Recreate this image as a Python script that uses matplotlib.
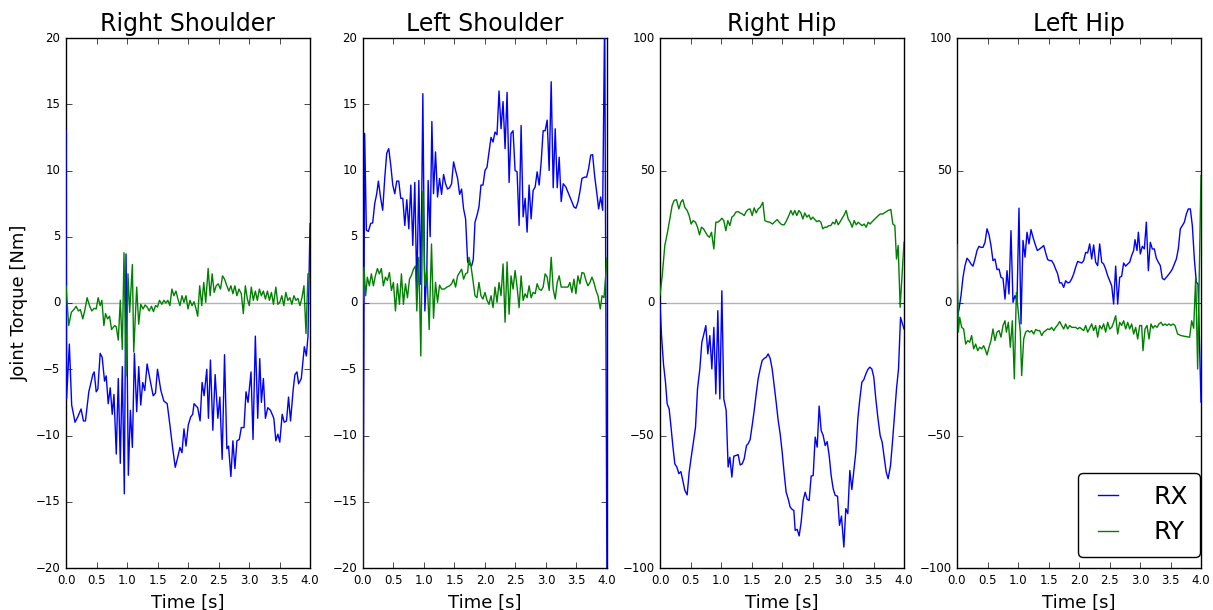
import numpy as np
import matplotlib
matplotlib.use("Agg")
import matplotlib.pyplot as plt

# joint torques, time in s, torque in Nm
rs_rx_t = [0.0, 0.01, 0.055, 0.093, 0.148, 0.192, 0.247, 0.286, 0.319, 0.374, 0.44, 0.462, 0.495, 0.522,
           0.56, 0.593, 0.632, 0.659, 0.692, 0.725, 0.758, 0.786, 0.824, 0.857, 0.89, 0.923, 0.956, 0.984,
           1.022, 1.055, 1.088, 1.121, 1.159, 1.192, 1.225, 1.258, 1.291, 1.33, 1.374, 1.429, 1.467, 1.5,
           1.555, 1.604, 1.659, 1.703, 1.747, 1.791, 1.824, 1.868, 1.901, 1.934, 1.967, 2.005, 2.044, 2.077,
           2.099, 2.159, 2.198, 2.231, 2.264, 2.308, 2.335, 2.368, 2.407, 2.445, 2.489, 2.522, 2.56, 2.599,
           2.637, 2.665, 2.703, 2.736, 2.769, 2.802, 2.841, 2.874, 2.918, 2.951, 2.984, 3.033, 3.066, 3.104,
           3.143, 3.176, 3.203, 3.236, 3.269, 3.308, 3.352, 3.407, 3.44, 3.473, 3.505, 3.544, 3.577, 3.615,
           3.648, 3.681, 3.725, 3.753, 3.786, 3.813, 3.857, 3.907, 3.94, 3.967, 4.0]
rs_rx = [13, -7.2, -3.1, -7.7, -9.0, -8.6, -8.0, -8.9, -8.9, -6.7, -5.4, -5.2, -6.7, -6.5,
         -3.8, -4.1, -5.9, -5.5, -7.6, -6.4, -8.4, -6.9, -11.4, -5.7, -12.1, -4.8, -14.4, 3.7,
         -13.0, -8.1, -10.9, -3.8, -8.2, -4.8, -7.7, -6.0, -6.6, -4.6, -5.7, -7.0, -6.8, -5.0,
         -6.6, -7.4, -7.6, -9.2, -10.9, -12.4, -11.8, -10.9, -11.3, -9.5, -10.8, -9.2, -8.6, -8.4,
         -7.6, -7.9, -8.9, -6.0, -7.0, -5.0, -8.7, -4.3, -9.6, -5.4, -8.7, -7.1, -11.8, -3.9,
         -11.0, -10.8, -13.1, -10.4, -12.5, -10.4, -10.3, -9.4, -9.4, -6.7, -7.5, -5.2, -10.3, -2.5,
         -8.7, -4.2, -7.5, -5.7, -8.7, -7.9, -8.1, -8.7, -10.4, -9.9, -10.5, -8.4, -9.0, -8.9,
         -7.1, -8.9, -6.5, -5.4, -5.2, -6.1, -5.7, -3.3, -4.0, -2.5, 6.0]

rs_ry_t = [0.0, 0.044, 0.088, 0.137, 0.165, 0.203, 0.236, 0.275, 0.313, 0.346, 0.385, 0.423, 0.462, 0.495,
           0.527, 0.56, 0.588, 0.621, 0.648, 0.681, 0.714, 0.747, 0.797, 0.824, 0.857, 0.89, 0.923, 0.951,
           0.984, 1.016, 1.044, 1.088, 1.11, 1.159, 1.192, 1.225, 1.264, 1.297, 1.33, 1.363, 1.401, 1.434,
           1.467, 1.5, 1.533, 1.571, 1.604, 1.637, 1.67, 1.703, 1.736, 1.769, 1.802, 1.835, 1.868, 1.901,
           1.934, 1.967, 2.0, 2.033, 2.066, 2.099, 2.132, 2.159, 2.192, 2.225, 2.258, 2.291, 2.33, 2.363,
           2.396, 2.429, 2.462, 2.495, 2.533, 2.566, 2.599, 2.637, 2.67, 2.703, 2.736, 2.769, 2.802, 2.835,
           2.874, 2.907, 2.94, 2.973, 3.005, 3.038, 3.071, 3.104, 3.137, 3.17, 3.203, 3.236, 3.269, 3.302,
           3.335, 3.368, 3.401, 3.44, 3.473, 3.505, 3.538, 3.571, 3.604, 3.637, 3.67, 3.703, 3.736, 3.769,
           3.802, 3.835, 3.868, 3.901, 3.934, 3.967, 4.0]
rs_ry = [1.3, -1.7, -0.7, -0.45, -0.25, -0.6, -0.5, -1.2, -0.45, 0.4, -0.2, -0.6, -0.4, -0.45,
         0.4, -0.2, 0.2, -1.7, -0.8, -1.2, -1.0, -2.0, -1.7, -1.8, -2.8, 0.2, -3.5, 3.8,
         -5.5, 2.2, -0.7, 2.9, -3.7, 1.2, -1.6, -0.1, -0.45, -0.15, -0.3, -0.6, -0.25, -0.65,
         -0.2, -0.3, 0.2, -0.1, 0.2, 0.0, 0.2, -0.2, 1.05, 0.55, 0.9, 0.3, -0.2, 0.55,
         0.05, 0.55, -0.45, 0.2, -0.2, 0.1, -0.45, -1.0, 1.3, -0.2, 1.55, 0.05, 2.6, 0.55,
         2.2, 0.8, 1.3, 1.45, 1.05, 2.05, 1.8, 1.3, 0.9, 1.3, 0.7, 1.3, 0.55, 1.05,
         0.7, -0.8, 1.3, 0.3, -0.2, 1.2, 0.2, 0.9, 0.2, 1.05, 0.55, 0.9, 0.3, 0.9,
         0.2, 0.8, -0.1, 1.2, -0.1, 0.05, 0.55, -0.2, 0.8, 0.2, 0.4, -0.1, 0.55, 0.2,
         0.35, -0.2, 0.4, 1.3, -2.3, 2.2, 2.3]

ls_rx_t = [0.0, 0.027, 0.055, 0.088, 0.126, 0.159, 0.192, 0.225, 0.252, 0.29, 0.323, 0.356, 0.389, 0.422,
           0.455, 0.488, 0.521, 0.553, 0.586, 0.619, 0.652, 0.685, 0.718, 0.751, 0.784, 0.816, 0.849, 0.882,
           0.915, 0.948, 0.981, 1.014, 1.047, 1.068, 1.101, 1.129, 1.156, 1.189, 1.222, 1.255, 1.288, 1.321,
           1.353, 1.386, 1.419, 1.452, 1.485, 1.518, 1.551, 1.584, 1.616, 1.649, 1.682, 1.715, 1.748, 1.781,
           1.808, 1.836, 1.868, 1.901, 1.934, 1.967, 2.0, 2.033, 2.066, 2.099, 2.132, 2.164, 2.197, 2.23,
           2.263, 2.296, 2.329, 2.362, 2.395, 2.427, 2.46, 2.493, 2.526, 2.559, 2.592, 2.625, 2.658, 2.69,
           2.723, 2.756, 2.789, 2.822, 2.855, 2.888, 2.921, 2.953, 2.986, 3.019, 3.052, 3.085, 3.118, 3.151,
           3.184, 3.216, 3.249, 3.282, 3.326, 3.37, 3.414, 3.458, 3.49, 3.523, 3.556, 3.589, 3.633, 3.666,
           3.699, 3.732, 3.764, 3.797, 3.83, 3.863, 3.896, 3.929, 3.962, 4.0]
ls_rx = [-21, 12.8, 5.5, 5.4, 6.0, 6.05, 7.5, 8.25, 9.2, 7.9, 7.0, 9.4, 11.3, 11.65,
         10.4, 8.9, 8.25, 9.2, 9.2, 7.9, 7.9, 5.85, 7.8, 5.6, 8.9, 4.35, 9.1, 1.05,
         9.25, 1.4, 15.8, -0.6, 2.6, 9.25, 5.0, 13.7, 8.25, 11.4, 8.0, 9.4, 8.2, 9.7,
         9.0, 8.6, 8.7, 9.0, 10.65, 10.0, 9.4, 8.2, 8.6, 7.1, 6.35, 3.1, 2.9, 2.8,
         3.3, 6.1, 6.6, 7.25, 8.9, 8.9, 10.0, 10.25, 11.4, 12.5, 12.15, 12.9, 12.7, 16.0,
         13.15, 15.2, 11.65, 15.9, 9.1, 12.8, 13.0, 10.0, 9.9, 5.85, 13.4, 6.5, 7.9, 5.35,
         8.9, 6.35, 8.5, 8.75, 9.9, 8.9, 10.65, 13.0, 13.0, 13.8, 10.0, 16.7, 8.7, 13.15,
         8.7, 11.0, 7.65, 9.0, 8.75, 8.25, 7.75, 7.25, 7.15, 7.6, 8.4, 9.4, 9.5, 9.5,
         10.15, 11.15, 11.2, 9.6, 8.4, 7.1, 8.0, 7.0, 22, -22]

ls_ry_t = [0.0, 0.016, 0.044, 0.071, 0.104, 0.137, 0.17, 0.203, 0.236, 0.268, 0.301, 0.334, 0.367, 0.4,
           0.433, 0.466, 0.499, 0.532, 0.564, 0.597, 0.63, 0.663, 0.696, 0.729, 0.762, 0.795, 0.827, 0.86,
           0.882, 0.915, 0.948, 0.981, 1.014, 1.047, 1.085, 1.123, 1.156, 1.189, 1.222, 1.255, 1.288, 1.332,
           1.375, 1.419, 1.452, 1.485, 1.518, 1.551, 1.584, 1.616, 1.649, 1.682, 1.715, 1.737, 1.77, 1.803,
           1.836, 1.868, 1.901, 1.934, 1.967, 2.0, 2.033, 2.066, 2.099, 2.132, 2.164, 2.197, 2.23, 2.263,
           2.296, 2.329, 2.362, 2.395, 2.427, 2.46, 2.493, 2.526, 2.559, 2.592, 2.625, 2.658, 2.69, 2.723,
           2.756, 2.789, 2.822, 2.855, 2.888, 2.921, 2.953, 2.986, 3.019, 3.052, 3.085, 3.118, 3.151, 3.184,
           3.216, 3.249, 3.304, 3.359, 3.392, 3.425, 3.458, 3.49, 3.523, 3.556, 3.589, 3.622, 3.655, 3.688,
           3.721, 3.753, 3.786, 3.819, 3.852, 3.89, 3.918, 3.951, 4.0]
ls_ry = [0.0, 2.7, 0.55, 1.95, 1.3, 2.2, 1.3, 2.05, 2.6, 2.2, 2.6, 1.3, 1.95, 1.7,
         2.3, 0.95, 1.55, -0.6, 1.45, -0.1, 2.2, -0.1, 1.45, 0.4, 1.8, 2.1, 2.55, 2.8,
         -0.6, 3.45, -4.0, 8.4, 1.3, 2.5, -2.0, 4.45, -1.15, 1.55, 0.05, 1.35, 1.05, 1.05,
         1.2, 1.3, 1.45, 1.8, 1.2, 2.05, 2.3, 2.55, 1.8, 2.2, 2.3, 3.45, 2.8, 1.7,
         0.55, 0.4, 1.55, 0.55, 0.3, 0.8, 0.2, -0.1, 0.55, -0.35, 1.2, 0.05, 1.55, 0.55,
         2.95, -1.45, 3.1, -0.85, 2.05, 1.05, 2.45, 1.2, -0.35, 2.05, 0.2, 0.7, 0.4, 1.3,
         0.4, 0.8, 0.7, 1.45, 1.05, 0.95, 1.2, 2.2, 1.95, 0.95, 3.45, 1.05, 0.3, 1.55,
         2.05, 1.2, 1.2, 1.2, 1.55, 0.8, 1.8, 0.7, 2.05, 1.45, 2.3, 2.25, 1.7, 1.3,
         1.55, 1.95, 1.55, 0.95, 0.55, -0.45, 0.55, 0.4, 3.4]

rh_rx_t = [0.0, 0.025, 0.057, 0.09, 0.117, 0.15, 0.178, 0.21, 0.243, 0.276, 0.309, 0.342, 0.374, 0.407,
           0.445, 0.478, 0.516, 0.555, 0.582, 0.615, 0.653, 0.686, 0.719, 0.751, 0.784, 0.817, 0.85, 0.883,
           0.915, 0.948, 0.981, 1.014, 1.046, 1.085, 1.117, 1.145, 1.178, 1.21, 1.249, 1.281, 1.314, 1.347,
           1.38, 1.418, 1.445, 1.478, 1.511, 1.544, 1.577, 1.609, 1.642, 1.675, 1.708, 1.74, 1.773, 1.806,
           1.839, 1.872, 1.904, 1.937, 1.97, 2.003, 2.036, 2.068, 2.101, 2.134, 2.167, 2.194, 2.216, 2.249,
           2.281, 2.314, 2.347, 2.38, 2.413, 2.445, 2.478, 2.511, 2.544, 2.577, 2.609, 2.642, 2.675, 2.708,
           2.74, 2.773, 2.806, 2.839, 2.872, 2.91, 2.943, 2.975, 3.014, 3.046, 3.079, 3.112, 3.145, 3.178,
           3.21, 3.243, 3.276, 3.309, 3.342, 3.374, 3.407, 3.44, 3.473, 3.505, 3.538, 3.571, 3.609, 3.642,
           3.675, 3.708, 3.74, 3.779, 3.811, 3.844, 3.877, 3.91, 3.943, 4.0]
rh_rx = [0.0, -12.3, -23.0, -29.9, -38.0, -40.0, -46.2, -53.8, -60.7, -61.9, -64.4, -63.6, -67.0, -70.7,
         -72.4, -63.8, -57.5, -51.3, -46.9, -32.4, -24.9, -14.8, -11.7, -8.5, -19.2, -12.3, -24.9, -9.2,
         -34.3, -2.9, -36.2, 4.6, -36.2, -40.6, -61.9, -58.2, -65.7, -57.8, -57.5, -57.2, -61.1, -60.7,
         -58.8, -53.8, -53.1, -51.5, -46.2, -40.6, -34.3, -28.6, -24.9, -21.7, -20.9, -20.5, -19.2, -20.9,
         -24.9, -31.2, -37.4, -44.3, -49.4, -56.3, -64.4, -71.4, -73.9, -77.0, -77.9, -78.3, -85.8, -85.4,
         -87.9, -82.7, -74.5, -71.4, -74.1, -74.5, -65.3, -65.1, -50.6, -54.4, -38.9, -48.1, -50.0, -53.8,
         -52.3, -57.5, -65.1, -70.1, -72.6, -72.9, -83.9, -80.4, -92.1, -77.6, -79.5, -63.2, -70.4, -63.2,
         -56.3, -43.7, -36.2, -29.9, -28.9, -26.8, -25.1, -24.2, -24.9, -28.0, -36.2, -43.1, -50.0, -52.5,
         -58.2, -63.8, -66.3, -61.3, -52.5, -42.5, -32.4, -24.9, -5.4, -9.8]

rh_ry_t = [0.0, 0.036, 0.079, 0.123, 0.161, 0.199, 0.232, 0.27, 0.309, 0.342, 0.374, 0.407, 0.445, 0.478,
           0.511, 0.544, 0.582, 0.615, 0.648, 0.68, 0.713, 0.746, 0.779, 0.811, 0.844, 0.883, 0.915, 0.948,
           0.981, 1.014, 1.046, 1.079, 1.112, 1.145, 1.178, 1.21, 1.243, 1.281, 1.314, 1.347, 1.38, 1.413,
           1.445, 1.478, 1.511, 1.544, 1.577, 1.609, 1.642, 1.686, 1.719, 1.757, 1.801, 1.844, 1.883, 1.921,
           1.954, 1.992, 2.036, 2.074, 2.112, 2.145, 2.178, 2.21, 2.243, 2.276, 2.309, 2.342, 2.374, 2.407,
           2.44, 2.473, 2.505, 2.538, 2.571, 2.604, 2.637, 2.669, 2.702, 2.735, 2.768, 2.8, 2.833, 2.866,
           2.888, 2.921, 2.954, 2.986, 3.019, 3.052, 3.085, 3.117, 3.15, 3.183, 3.216, 3.249, 3.281, 3.314,
           3.347, 3.38, 3.413, 3.445, 3.478, 3.522, 3.566, 3.609, 3.653, 3.697, 3.74, 3.784, 3.817, 3.85,
           3.877, 3.904, 3.937, 4.0]
rh_ry = [3.0, 10.3, 21.7, 26.7, 31.7, 36.8, 38.7, 39.0, 35.5, 38.0, 39.0, 36.1, 34.9, 33.0,
         29.8, 31.1, 30.5, 28.6, 25.7, 28.6, 28.0, 26.7, 25.4, 24.8, 26.7, 20.4, 30.5, 30.5,
         31.1, 32.0, 31.1, 27.3, 31.1, 29.2, 32.4, 33.0, 34.3, 34.5, 34.0, 33.6, 33.0, 34.5,
         35.3, 35.5, 33.0, 35.9, 34.0, 35.5, 36.1, 38.0, 31.1, 30.7, 30.5, 29.8, 30.7, 31.5,
         30.5, 29.6, 29.5, 31.1, 33.0, 34.9, 33.2, 34.9, 33.0, 34.9, 34.0, 31.7, 34.0, 32.4,
         33.2, 31.5, 32.4, 31.5, 30.7, 31.1, 30.5, 28.0, 28.6, 28.6, 29.2, 29.2, 30.5, 29.8,
         31.5, 29.5, 30.7, 32.0, 33.2, 34.9, 31.7, 30.5, 28.6, 31.1, 29.5, 30.5, 29.8, 29.2,
         29.8, 28.6, 30.5, 29.8, 30.7, 31.7, 32.7, 33.6, 33.6, 34.3, 34.9, 35.3, 29.8, 29.2,
         16.6, 21.7, -1.6, 22.9]

lh_rx_t = [0.0, 0.033, 0.066, 0.098, 0.131, 0.164, 0.197, 0.23, 0.262, 0.295, 0.328, 0.361, 0.393, 0.426,
           0.459, 0.492, 0.525, 0.557, 0.59, 0.623, 0.656, 0.689, 0.721, 0.754, 0.787, 0.82, 0.852, 0.885,
           0.918, 0.951, 0.984, 1.016, 1.049, 1.082, 1.115, 1.148, 1.18, 1.213, 1.246, 1.279, 1.317, 1.355,
           1.388, 1.421, 1.454, 1.486, 1.519, 1.552, 1.585, 1.617, 1.65, 1.683, 1.716, 1.749, 1.781, 1.814,
           1.847, 1.88, 1.913, 1.945, 1.978, 2.011, 2.044, 2.077, 2.109, 2.142, 2.175, 2.208, 2.24, 2.273,
           2.306, 2.339, 2.372, 2.404, 2.437, 2.47, 2.503, 2.536, 2.568, 2.601, 2.634, 2.667, 2.699, 2.732,
           2.765, 2.798, 2.831, 2.863, 2.896, 2.918, 2.951, 2.973, 3.005, 3.038, 3.071, 3.104, 3.137, 3.169,
           3.202, 3.235, 3.268, 3.301, 3.333, 3.366, 3.399, 3.432, 3.464, 3.497, 3.53, 3.563, 3.596, 3.628,
           3.661, 3.694, 3.727, 3.76, 3.792, 3.825, 3.858, 3.891, 3.923, 3.951, 4.0]
lh_rx = [-6.0, -2.3, 2.8, 9.7, 14.1, 16.9, 16.0, 14.7, 13.9, 16.6, 19.8, 21.4, 21.0, 21.0,
         22.9, 28.0, 25.7, 21.7, 16.0, 16.6, 12.6, 12.8, 9.7, 9.3, 1.5, 12.2, 3.4, 27.3,
         0.25, 2.8, 0.9, 35.8, -7.9, 23.6, 17.3, 26.7, 22.3, 27.7, 24.8, 22.3, 19.8, 20.4,
         21.0, 21.7, 18.9, 16.4, 16.0, 16.0, 14.7, 12.8, 11.0, 7.6, 7.6, 5.9, 8.4, 7.6,
         7.8, 9.1, 11.0, 13.5, 15.7, 15.4, 15.1, 16.0, 19.1, 18.9, 22.3, 16.6, 21.9, 15.4,
         14.1, 22.3, 15.4, 14.7, 12.8, 10.3, 8.4, 6.5, -0.4, 13.9, -0.4, 9.7, 10.1, 15.1,
         13.9, 14.7, 15.4, 17.9, 19.8, 23.9, 19.8, 26.7, 18.5, 21.4, 20.4, 30.5, 12.2, 22.9,
         20.4, 20.4, 16.9, 15.4, 14.1, 9.3, 8.8, 9.7, 10.6, 11.6, 12.8, 14.7, 16.6, 20.4,
         28.0, 29.2, 30.5, 33.6, 35.5, 35.5, 29.2, 16.6, 7.8, 7.2, -37.4]

lh_ry_t = [0.0, 0.022, 0.044, 0.077, 0.109, 0.142, 0.175, 0.208, 0.24, 0.273, 0.306, 0.339, 0.372, 0.404,
           0.437, 0.47, 0.492, 0.525, 0.557, 0.59, 0.623, 0.656, 0.689, 0.721, 0.754, 0.787, 0.809, 0.842,
           0.874, 0.907, 0.94, 0.973, 1.005, 1.038, 1.06, 1.093, 1.126, 1.158, 1.191, 1.224, 1.257, 1.29,
           1.322, 1.355, 1.388, 1.421, 1.454, 1.486, 1.519, 1.552, 1.585, 1.617, 1.65, 1.683, 1.716, 1.749,
           1.781, 1.814, 1.847, 1.88, 1.913, 1.945, 1.978, 2.011, 2.044, 2.077, 2.109, 2.142, 2.175, 2.208,
           2.24, 2.273, 2.306, 2.339, 2.372, 2.404, 2.437, 2.47, 2.503, 2.536, 2.568, 2.601, 2.634, 2.667,
           2.699, 2.732, 2.765, 2.798, 2.831, 2.863, 2.896, 2.929, 2.962, 2.995, 3.027, 3.049, 3.082, 3.115,
           3.148, 3.18, 3.213, 3.246, 3.279, 3.311, 3.344, 3.377, 3.41, 3.443, 3.475, 3.508, 3.541, 3.574,
           3.617, 3.672, 3.738, 3.814, 3.847, 3.88, 3.913, 3.945, 4.0]
lh_ry = [22, -11.0, -5.4, -9.2, -9.8, -15.5, -14.2, -14.8, -12.3, -17.3, -15.5, -18.0, -16.7, -17.3,
         -16.1, -18.0, -19.6, -16.7, -14.2, -9.8, -14.2, -11.0, -10.4, -12.9, -8.5, -6.7, -11.0, -7.3,
         -16.7, -6.7, -28.6, 4.0, -3.5, -11.0, -27.4, -13.6, -11.0, -10.4, -11.0, -10.4, -11.7, -10.0,
         -10.4, -10.4, -12.3, -11.0, -10.4, -9.8, -10.0, -9.2, -10.4, -9.2, -8.3, -7.0, -8.5, -9.8,
         -7.9, -9.8, -8.5, -9.2, -9.2, -9.2, -9.8, -9.2, -9.8, -10.4, -8.5, -11.0, -9.5, -7.9,
         -10.4, -8.5, -12.9, -8.5, -9.8, -7.9, -11.0, -7.3, -9.8, -9.2, -7.3, -4.8, -11.7, -7.3,
         -8.5, -6.7, -9.8, -7.3, -9.8, -7.9, -11.7, -9.2, -13.6, -8.5, -8.5, -18.0, -9.8, -8.5,
         -13.6, -7.9, -9.5, -8.5, -9.2, -7.9, -7.3, -8.5, -7.9, -8.5, -7.9, -8.5, -7.9, -8.5,
         -11.7, -12.3, -12.6, -12.9, -6.7, -9.5, 9.7, -24.9, 48.1]

titles = ["Right Shoulder", "Left Shoulder", "Right Hip", "Left Hip"]
series = [
    (rs_rx_t, rs_rx, rs_ry_t, rs_ry),
    (ls_rx_t, ls_rx, ls_ry_t, ls_ry),
    (rh_rx_t, rh_rx, rh_ry_t, rh_ry),
    (lh_rx_t, lh_rx, lh_ry_t, lh_ry),
]
y_limits = [20, 20, 100, 100]
y_steps = [5, 5, 50, 50]

plt.style.use("classic")
plt.rcParams["figure.facecolor"] = "white"
plt.rcParams["savefig.facecolor"] = "white"
plt.rcParams["font.family"] = ["DejaVu Sans"]

fig = plt.figure(figsize=(12.13, 6.10), dpi=100)

left0 = 66 / 1213
step = 297 / 1213
width = 244 / 1213
bottom = 42 / 610
height = 530 / 610

for i, (title, (tx, rx, ty, ry)) in enumerate(zip(titles, series)):
    ax = fig.add_axes([left0 + i * step, bottom, width, height])
    ax.axhline(0, color="0.7", lw=1, zorder=1)
    # lines above the spines so the edge spikes show, as in the original
    ax.plot(tx, rx, color="b", lw=1, label="RX", zorder=3)
    ax.plot(ty, ry, color="g", lw=1, label="RY", zorder=4)
    lim = y_limits[i]
    ax.set_ylim(-lim, lim)
    ax.set_yticks(np.arange(-lim, lim + 1, y_steps[i]))
    ax.set_xlim(0, 4)
    ax.set_xticks(np.arange(0, 4.01, 0.5))
    ax.xaxis.set_major_formatter(matplotlib.ticker.FormatStrFormatter("%.1f"))
    ax.tick_params(labelsize=8.5)
    ax.set_title(title, fontsize=17)
    ax.set_xlabel("Time [s]", fontsize=13)
    if i == 0:
        ax.set_ylabel("Joint Torque [Nm]", fontsize=13)
    if i == 3:
        leg = ax.legend(loc="lower right", bbox_to_anchor=(0.996, 0.021), borderaxespad=0,
                        fontsize=18, fancybox=True, handlelength=1.4, handletextpad=1.1,
                        borderpad=0.5, labelspacing=0.45)
        leg.set_zorder(5)

fig.savefig("out.png", dpi=100)
